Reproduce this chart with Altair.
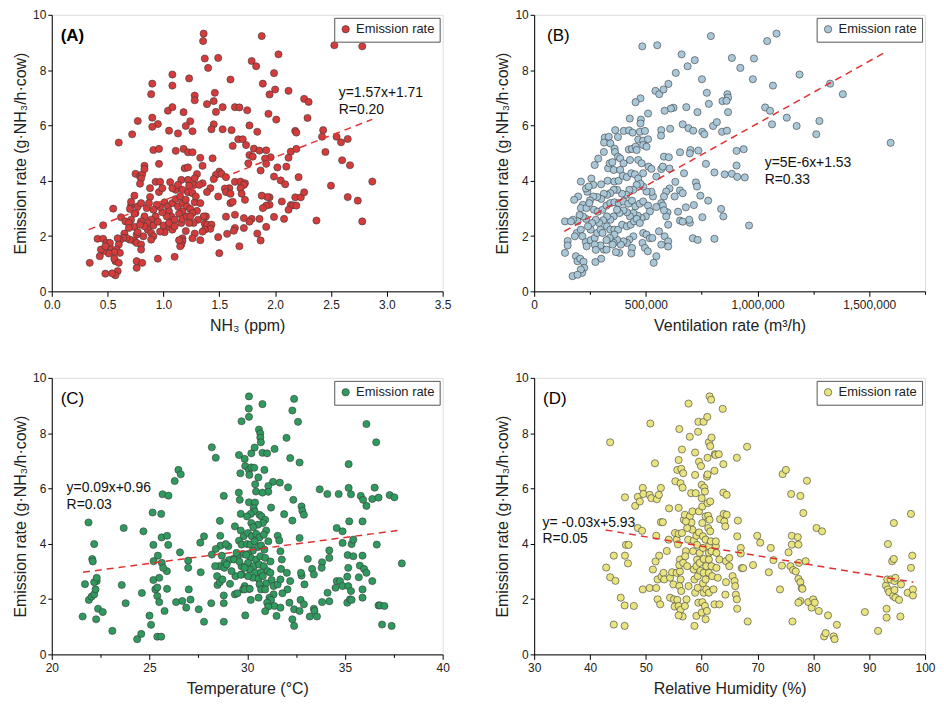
import altair as alt
import pandas as pd

# ---------------- data ----------------
A_POINTS = [
(1.36,9.32),(1.355,9.05),(1.88,9.23),(2.53,8.9),(2.78,8.86),(1.37,8.42),(1.49,8.44),(2.03,8.57),(1.40,8.08),(1.79,8.33),
(1.83,8.14),(1.08,7.84),(1.99,7.89),(1.23,7.7),(1.60,7.66),(0.90,7.51),(1.08,7.44),(1.89,7.51),(0.89,7.13),(1.28,7.08),
(1.28,6.91),(1.46,7.18),(1.95,7.12),(2.0,7.3),(2.12,7.25),(2.26,6.96),(2.30,6.85),(1.39,6.77),(1.45,6.88),(1.04,6.53),
(1.08,6.66),(1.53,6.66),(1.47,6.49),(1.18,6.48),(1.64,6.66),(1.68,6.65),(1.75,6.55),(1.94,6.42),(2.29,6.27),(0.77,6.16),
(0.90,6.28),(0.95,6.05),(0.90,5.95),(1.24,6.15),(1.20,5.98),(1.45,6.04),(1.61,5.83),(2.01,6.21),(1.77,6.0),(0.60,5.38),
(0.72,5.68),(1.05,5.81),(1.13,5.71),(1.26,5.79),(1.43,5.86),(1.53,5.86),(1.84,5.77),(2.18,5.8),(2.19,5.74),(2.43,5.83),
(2.42,5.59),(2.55,5.59),(2.59,5.39),(2.65,5.51),(1.67,5.5),(1.71,5.5),(1.74,5.29),(0.91,5.11),(0.96,5.15),(1.11,5.08),
(1.18,5.15),(1.22,5.03),(1.26,5.03),(1.62,5.26),(1.81,5.16),(1.86,5.09),(1.92,5.10),(2.14,5.05),(2.19,5.15),(2.45,5.04),
(1.77,4.93),(1.80,4.87),(1.96,4.85),(1.91,4.8),(2.60,4.74),(2.67,4.56),(2.12,4.83),(0.83,4.54),(0.96,4.61),(0.75,4.25),
(0.79,4.15),(0.81,4.23),(0.83,4.42),(0.80,4.08),(1.19,4.45),(1.22,4.48),(1.30,4.24),(1.35,4.54),(1.44,4.81),(1.33,4.83),
(1.50,4.33),(1.47,4.21),(1.45,4.06),(1.52,4.25),(1.56,4.13),(1.76,4.63),(1.87,4.37),(2.02,4.48),(1.92,4.61),(1.99,4.15),
(2.10,4.51),(2.05,4.01),(2.09,3.87),(2.21,4.13),(0.93,3.96),(0.97,3.96),(1.06,3.95),(1.16,4.03),(1.27,3.85),(1.35,3.91),
(1.42,3.73),(1.39,3.59),(1.64,3.96),(1.69,3.97),(1.73,3.91),(1.72,3.85),(1.69,3.73),(1.70,3.53),(1.59,3.73),(1.55,3.72),
(1.56,3.59),(1.60,3.53),(1.73,3.31),(2.06,3.25),(2.18,3.40),(2.23,3.40),(2.26,3.58),(2.14,3.12),(2.16,3.11),(1.95,3.40),
(1.93,3.41),(1.95,3.13),(2.19,3.10),(2.12,2.95),(0.79,3.89),(0.88,3.73),(0.96,3.59),(0.99,3.73),(0.74,3.46),(0.88,3.41),
(2.50,3.82),(2.65,3.41),(2.87,3.97),(2.74,3.28),(2.78,2.53),(2.37,2.56),(1.88,3.46),(1.92,3.10),(2.08,2.62),(1.99,2.69),
(1.79,2.62),(1.77,2.52),(1.72,2.65),(1.86,2.62),(1.64,2.77),(1.49,3.43),(1.60,3.19),(1.62,3.24),(1.56,2.70),(1.64,2.29),
(1.63,2.19),(1.72,2.29),(1.57,2.08),(1.49,1.96),(1.50,1.38),(1.68,1.63),(1.84,2.09),(1.87,1.84),(1.92,2.33),(1.89,3.01),
(1.38,2.71),(1.36,2.71),(1.37,2.45),(1.39,2.41),(1.43,2.41),(1.42,2.26),(1.37,2.23),(1.35,2.16),(1.28,2.09),(1.26,1.92),
(1.33,1.85),(1.17,1.92),(1.20,2.18),(1.17,1.82),(1.16,1.69),(1.15,1.63),(1.10,1.25),(0.95,1.18),(1.04,2.33),(1.01,2.14),
(1.08,2.23),(1.14,1.85),(1.28,3.22),(1.33,3.19),(1.30,2.91),(1.31,2.59),(1.27,2.47),(1.01,3.22),(1.04,3.07),(1.05,2.89),
(1.08,3.19),(1.11,3.34),(1.13,3.07),(1.15,3.43),(1.17,3.19),(1.20,3.31),(1.21,3.07),(1.24,2.98),(1.26,2.83),(1.17,2.89),
(1.14,2.81),(1.07,2.71),(1.03,2.71),(0.99,2.86),(0.97,3.05),(0.94,3.13),(0.91,2.95),(0.93,2.71),(0.89,2.59),(0.86,2.47),
(0.91,2.38),(0.86,2.23),(0.89,2.11),(0.91,1.99),(0.89,1.87),(0.97,2.16),(0.95,2.52),(1.0,2.38),(1.05,2.47),(1.10,2.59),
(1.10,2.35),(1.16,2.47),(1.17,2.62),(1.21,2.71),(1.23,2.47),(1.24,2.71),(1.11,3.67),(1.08,3.73),(1.13,3.85),(1.17,3.67),
(1.22,3.58),(1.26,3.55),(1.29,3.43),(1.22,4.03),(1.28,4.09),(1.32,3.85),(1.23,3.82),(0.55,2.99),(0.62,2.68),(0.46,2.39),
(0.66,2.53),(0.71,2.59),(0.69,2.47),(0.74,2.33),(0.69,2.29),(0.65,2.09),(0.76,2.05),(0.74,1.82),(0.76,1.75),(0.70,1.87),
(0.67,1.93),(0.64,1.93),(0.61,1.85),(0.59,1.92),(0.60,1.69),(0.58,1.51),(0.61,1.39),(0.56,1.42),(0.52,1.61),(0.51,1.37),
(0.46,1.45),(0.44,1.51),(0.41,1.90),(0.46,1.90),(0.49,1.75),(0.52,1.75),(0.48,1.63),(0.43,1.27),(0.34,1.03),(0.57,1.09),
(0.56,1.18),(0.60,1.03),(0.59,0.73),(0.57,0.58),(0.54,0.65),(0.48,0.64),(0.76,0.85),(0.76,1.09),(0.81,1.03),(0.80,1.69),
(0.80,1.51),(0.82,1.99),(0.83,2.35),(0.75,2.83),(0.74,2.81),(0.71,3.10),(0.71,3.24),(0.70,2.98),(0.77,3.07),(0.80,3.19),
(0.85,3.01),(0.87,3.19),(0.83,2.71),(0.80,2.53),(0.79,2.41),(0.77,2.14),
]

B_POINTS = [  # (ventilation rate in thousand m3/h, emission rate)
(791,9.23),(1085,9.32),(1043,9.05),(484,8.86),(551,8.9),(660,8.57),(719,8.36),(687,8.14),(885,8.44),(984,8.42),
(923,8.08),(634,7.9),(1188,7.84),(751,7.67),(979,7.67),(601,7.5),(1325,7.51),(543,7.25),(560,7.13),(579,7.3),
(773,7.18),(865,7.13),(868,7.01),(1382,7.13),(1069,7.44),(476,6.98),(454,6.84),(782,6.78),(843,6.88),(861,6.89),
(624,6.64),(612,6.61),(681,6.66),(584,6.53),(731,6.48),(868,6.48),(1034,6.65),(1056,6.53),(1131,6.28),(428,6.25),
(510,6.43),(478,6.21),(609,5.88),(569,5.83),(665,6.04),(691,5.9),(712,5.81),(753,5.77),(762,5.68),(801,5.98),
(818,6.12),(841,5.77),(863,5.81),(1065,6.04),(1175,5.98),(1277,6.16),(1263,5.68),(1596,5.37),(363,5.83),(401,5.8),
(425,5.82),(441,5.74),(473,5.77),(496,5.8),(476,6.07),(568,5.63),(316,5.56),(334,5.59),(375,5.58),(313,5.38),
(341,5.35),(360,5.16),(362,5.04),(312,5.04),(331,4.45),(338,4.63),(375,4.87),(385,4.81),(400,4.63),(424,5.13),
(438,5.15),(454,5.23),(466,5.49),(488,5.45),(510,5.5),(488,5.29),(503,5.23),(459,5.11),(466,4.75),(481,4.63),
(429,4.75),(350,4.67),(356,4.39),(385,4.39),(271,4.57),(287,4.8),(256,4.08),(265,3.85),(300,3.87),(329,4.0),
(359,3.97),(378,4.0),(397,4.18),(415,4.13),(435,4.27),(451,4.23),(466,4.08),(488,4.27),(512,4.51),(525,4.43),
(547,4.15),(569,4.42),(576,4.51),(581,4.87),(603,4.85),(606,4.44),(653,5.03),(700,5.11),(697,4.99),(735,5.09),
(769,4.61),(807,4.3),(853,4.23),(885,4.25),(906,5.08),(906,4.55),(909,4.14),(943,4.12),(938,5.14),(671,4.27),
(632,3.96),(653,3.65),(665,3.55),(724,3.94),(729,3.79),(744,3.46),(779,3.28),(837,2.98),(847,2.71),(962,2.38),
(807,1.9),(710,1.92),(732,1.86),(697,2.48),(694,2.59),(715,3.12),(679,3.04),(753,2.68),(644,2.88),(653,2.56),
(665,2.52),(629,3.43),(606,3.72),(591,3.61),(581,3.43),(569,3.19),(597,2.86),(591,2.71),(600,2.41),(576,3.1),
(581,2.93),(547,3.05),(532,3.43),(525,3.6),(503,3.61),(488,3.79),(476,3.89),(459,3.85),(444,3.67),(426,3.67),
(412,3.49),(393,3.53),(371,3.67),(356,3.67),(341,3.55),(326,3.49),(312,3.53),(300,3.34),(282,3.41),(265,3.43),
(250,3.29),(238,3.6),(232,3.72),(209,3.97),(197,3.43),(179,3.31),(218,3.13),(209,3.01),(234,3.01),(247,3.19),
(268,2.95),(285,2.88),(306,2.95),(324,3.1),(341,3.19),(359,3.22),(379,3.19),(400,3.25),(421,3.17),(438,3.28),
(453,3.07),(473,3.17),(488,3.25),(510,3.1),(518,2.89),(500,2.71),(481,2.65),(463,2.74),(444,2.83),(429,2.71),
(415,2.86),(400,2.93),(382,2.83),(371,2.95),(356,2.71),(341,2.59),(326,2.71),(309,2.57),(291,2.47),(276,2.59),
(259,2.47),(253,2.23),(241,2.35),(232,2.62),(218,2.71),(203,2.76),(194,2.53),(174,2.59),(138,2.53),(165,2.53),
(191,2.11),(209,2.23),(216,1.99),(231,1.78),(235,1.63),(253,1.85),(271,1.93),(282,2.11),(297,2.23),(306,2.11),
(326,2.35),(341,2.23),(359,2.23),(376,2.23),(394,2.41),(415,2.35),(432,2.41),(447,2.53),(459,2.62),(473,2.47),
(488,2.11),(503,2.05),(518,1.92),(485,1.75),(496,1.57),(509,1.45),(535,1.03),(547,1.27),(559,2.17),(584,1.99),
(600,1.81),(600,1.62),(569,1.69),(529,1.93),(444,1.99),(426,1.87),(438,1.57),(435,1.37),(415,1.75),(400,1.81),
(388,1.69),(371,1.87),(359,2.05),(356,1.75),(381,1.39),(366,1.42),(351,1.69),(338,1.93),(324,1.85),(312,1.51),
(297,1.66),(271,1.69),(276,1.5),(300,1.18),(324,1.51),(274,1.06),(182,1.99),(150,1.82),(150,1.66),(138,1.39),
(187,1.27),(194,1.09),(206,1.18),(221,1.07),(224,0.85),(215,0.67),(209,0.79),(172,0.55),(194,0.6),(244,3.79),
]

C_POINTS = [
(30.09,9.33),(30.08,8.89),(30.09,8.59),(30.78,9.05),(32.4,9.24),(32.31,8.82),(32.6,8.41),(29.71,8.43),(30.6,8.13),(30.67,7.99),
(30.67,7.84),(30.7,7.67),(30.38,7.48),(30.21,7.27),(30.78,7.29),(31.02,7.27),(31.4,7.43),(32.01,7.83),(32.2,7.1),(32.68,6.94),
(36.1,8.33),(36.6,7.67),(35.19,6.88),(35.19,6.02),(35.31,5.79),(35.81,5.73),(35.93,5.59),(36.1,5.37),(36.52,6.03),(36.4,5.62),
(36.72,5.67),(37.29,5.76),(37.53,5.68),(33.71,5.97),(34.1,5.8),(34.68,5.8),(28.19,7.49),(28.39,7.11),(29.58,7.21),(29.65,6.55),
(29.87,7.07),(29.9,6.81),(30.09,6.67),(30.21,6.76),(30.36,6.75),(30.11,6.49),(30.57,6.4),(30.88,6.67),(30.41,6.15),(31.32,6.24),
(31.08,6.09),(31.67,6.21),(32.09,6.04),(31.08,5.88),(30.45,5.89),(30.78,5.85),(29.57,5.85),(29.62,5.59),(30.09,5.5),(30.4,5.49),
(30.33,5.29),(30.38,5.17),(30.18,5.08),(29.67,5.08),(29.99,4.99),(30.63,5.05),(30.73,4.99),(30.92,4.87),(30.8,4.75),(30.55,4.69),
(30.21,4.75),(30.31,4.6),(30.97,4.48),(31.22,5.31),(31.89,5.07),(32.36,5.59),(32.78,5.35),(32.82,5.19),(32.9,5.05),(32.31,4.84),
(29.37,4.63),(29.67,4.48),(29.82,4.27),(30.04,4.39),(30.24,4.27),(30.46,4.36),(30.63,4.23),(30.85,4.33),(31.08,4.09),(31.56,4.29),
(31.64,4.12),(31.7,3.73),(32.68,4.21),(29.58,4.11),(29.71,3.97),(29.99,3.99),(30.16,3.97),(30.38,4.09),(30.55,3.88),(30.71,3.94),
(30.88,3.79),(30.29,3.75),(30.04,3.63),(29.79,3.63),(29.5,3.55),(29.28,3.45),(29.07,3.41),(28.83,3.31),(28.56,3.19),(29.03,3.91),
(28.63,3.93),(28.6,4.83),(28.62,4.29),(28.39,3.81),(28.19,3.61),(27.6,4.04),(27.79,4.27),(26.56,3.69),(30.18,3.49),(30.46,3.43),
(30.68,3.55),(30.92,3.49),(31.19,3.36),(30.04,3.31),(30.34,3.19),(30.61,3.25),(30.85,3.19),(30.13,3.07),(30.41,2.95),(30.71,2.97),
(31.05,3.01),(31.19,2.95),(30.29,2.77),(30.58,2.73),(30.8,2.83),(31.25,2.69),(30.97,2.57),(30.63,2.53),(30.04,2.83),(29.71,2.89),
(29.4,2.83),(29.87,2.47),(29.79,2.35),(30.09,2.37),(30.58,2.05),(30.71,2.35),(30.92,2.35),(31.35,2.47),(31.56,2.53),(31.7,2.71),
(31.73,3.09),(31.77,3.43),(32.03,2.95),(32.06,2.35),(32.2,2.65),(31.8,2.21),(31.35,2.17),(31.14,2.05),(31.22,1.97),(31.02,1.87),
(31.39,1.75),(31.08,1.73),(31.7,1.69),(30.92,1.56),(31.5,1.39),(32.16,1.87),(32.31,1.27),(32.4,1.03),(32.4,1.63),(32.68,1.57),
(32.73,1.97),(32.9,1.81),(32.78,2.85),(32.75,2.95),(32.93,2.53),(33.1,3.45),(33.32,3.09),(33.41,2.89),(33.83,3.33),(33.81,3.13),
(34.2,3.76),(34.2,3.49),(34.11,2.23),(34.2,1.92),(33.83,1.89),(33.41,1.65),(33.44,1.57),(33.2,1.37),(33.57,1.37),(34.58,4.57),
(34.88,4.45),(34.88,4.03),(34.52,2.41),(34.58,2.65),(34.75,2.65),(34.88,2.47),(35.12,2.81),(35.17,2.47),(35.12,1.87),(35.17,3.13),
(35.14,3.59),(35.43,3.55),(35.26,1.99),(35.31,2.29),(35.34,1.97),(35.22,4.81),(35.34,3.99),(35.43,4.15),(35.76,3.21),(35.71,2.79),
(35.9,3.57),(35.9,2.35),(35.9,2.05),(35.9,4.81),(35.98,3.09),(36.1,2.95),(36.4,2.65),(36.63,3.97),(36.72,1.77),(36.8,1.77),
(37.02,1.75),(36.9,1.08),(37.39,1.03),(37.91,3.29),(21.88,4.77),(22.17,3.99),(22.07,3.45),(22.1,3.36),(21.7,2.54),(21.58,1.37),
(21.9,1.97),(22.04,2.09),(22.17,2.17),(22.24,2.35),(22.3,2.65),(22.17,2.61),(22.3,2.77),(22.27,1.27),(22.37,1.65),(22.61,1.53),
(23.1,0.85),(23.58,2.51),(23.68,4.57),(23.78,1.85),(24.37,0.55),(24.58,0.74),(24.61,2.22),(24.69,4.45),(25.0,1.4),(25.08,1.07),
(25.16,5.13),(25.2,3.96),(25.21,3.37),(25.2,2.69),(25.3,2.35),(25.4,2.42),(25.43,3.57),(25.5,2.77),(25.4,2.11),(25.5,1.89),
(25.4,0.64),(25.6,0.64),(25.6,5.08),(25.62,4.23),(25.67,5.79),(25.97,5.74),(25.9,4.29),(25.96,3.96),(25.89,3.01),(25.9,2.37),
(25.77,1.57),(25.63,3.31),(25.7,3.13),(26.29,6.27),(26.48,6.67),(26.6,6.51),(26.36,1.89),(26.68,1.93),(26.88,1.69),(26.98,3.39),
(27.01,2.35),(27.1,1.98),(27.52,1.63),(27.62,2.97),(26.98,3.13),(27.79,1.18),(28.16,1.85),(28.36,3.19),(28.46,2.83),(28.48,2.51),
(28.6,2.61),(28.73,2.71),(28.83,3.13),(28.8,2.13),(28.8,1.85),(28.8,1.18),(28.8,5.73),(28.9,3.99),(28.7,3.57),(29.12,2.55),
(29.33,3.43),(29.37,2.17),(29.5,2.21),(29.67,2.88),(29.87,2.35),(29.9,1.41),(29.95,3.6),(30.13,2.37),(30.18,1.97),(29.71,3.19),
(29.87,3.13),(29.6,3.36),(29.45,3.67),(29.2,3.01),(28.95,3.25),
]

D_POINTS = [
(43.61,7.67),(42.9,3.14),(43.61,2.79),(44.56,2.66),(44.26,3.57),(44.26,1.08),(45.5,2.05),(46.2,1.03),(46.2,1.77),(46.26,3.57),
(46.26,5.68),(46.44,3.96),(46.91,3.96),(46.79,3.29),(47.85,1.75),(48.09,5.37),(48.56,5.7),(48.92,5.53),(48.56,4.57),(49.33,4.47),
(49.45,6.02),(49.56,5.8),(49.45,2.35),(50.68,2.4),(50.8,8.35),(50.68,5.77),(50.98,5.65),(51.27,3.07),(51.63,6.91),(51.74,3.36),
(51.86,4.29),(51.98,5.61),(52.1,1.99),(52.33,5.77),(52.39,3.57),(52.57,1.81),(52.69,6.02),(52.69,4.78),(53.04,4.78),(51.86,2.4),
(52.1,2.71),(52.81,2.81),(53.16,2.95),(53.75,3.74),(54.1,4.15),(54.16,5.28),(53.28,2.71),(54.34,2.77),(54.69,2.97),(54.93,2.53),
(54.34,2.05),(55.04,1.99),(55.16,1.73),(55.63,1.97),(55.51,2.95),(56.1,3.0),(55.22,4.39),(55.28,6.26),(55.51,4.15),(55.75,3.98),
(55.87,4.36),(55.87,7.03),(55.87,5.3),(55.63,6.67),(55.99,8.15),(56.22,6.19),(56.34,6.71),(56.58,6.03),(56.46,7.41),(56.69,6.55),
(56.81,4.87),(56.99,5.05),(56.1,3.43),(55.99,3.23),(56.69,3.31),(56.22,2.71),(55.99,2.47),(56.34,2.29),(55.87,1.75),(56.22,1.61),
(56.58,1.37),(55.87,1.41),(56.99,1.75),(57.28,1.99),(57.17,3.73),(57.58,4.15),(57.05,3.55),(57.4,3.19),(57.64,2.47),(57.87,7.87),
(57.64,9.07),(57.87,4.99),(58.11,5.83),(58.17,4.77),(58.34,4.51),(58.34,5.17),(58.46,3.73),(58.58,4.11),(58.58,3.07),(58.7,2.71),
(58.82,2.23),(58.7,1.03),(58.82,7.3),(58.82,6.49),(58.93,5.83),(59.05,4.29),(59.17,3.96),(59.17,3.43),(59.05,3.19),(59.29,2.83),
(59.29,2.41),(59.35,8.05),(59.4,8.41),(59.52,6.97),(59.52,5.17),(59.52,4.41),(59.64,3.67),(59.64,3.31),(59.76,3.02),(59.4,1.87),
(59.05,1.39),(60.0,6.13),(59.88,6.81),(60.0,5.65),(60.11,5.35),(60.11,4.75),(60.23,4.27),(60.23,3.85),(60.35,3.45),(60.35,2.95),
(60.23,2.57),(60.35,2.23),(60.11,1.89),(60.0,1.51),(60.35,8.41),(60.46,6.03),(60.58,5.89),(60.7,4.99),(60.7,4.15),(60.82,3.19),
(60.7,2.71),(60.82,2.35),(60.58,1.75),(60.7,1.27),(61.0,8.59),(61.05,7.11),(60.94,6.43),(61.05,6.51),(61.05,5.47),(61.17,5.01),
(61.17,4.57),(61.29,3.91),(61.29,3.67),(61.29,3.43),(61.29,2.95),(61.29,2.23),(60.94,1.57),(61.41,9.33),(61.7,9.21),(61.29,7.67),
(61.76,7.84),(61.53,7.53),(61.53,5.53),(61.41,4.87),(61.53,4.45),(61.64,4.09),(61.76,3.73),(61.76,3.19),(61.88,2.83),(62.12,2.35),
(62.29,1.81),(62.35,7.24),(62.29,6.64),(62.47,7.21),(63.06,7.24),(62.53,3.91),(62.53,4.09),(62.64,3.67),(62.64,3.13),(62.88,2.77),
(63.17,3.43),(63.17,1.81),(63.29,4.89),(63.76,8.88),(63.88,6.88),(63.88,5.85),(63.94,5.08),(64.06,4.81),(64.23,4.63),(64.47,5.77),
(64.47,5.05),(64.35,3.37),(64.35,2.61),(64.24,2.16),(64.94,3.49),(64.94,3.19),(65.53,2.83),(65.89,2.65),(66.0,2.47),(66.12,2.16),
(66.36,1.65),(66.36,4.27),(66.48,4.84),(66.3,7.11),(67.0,3.85),(67.0,3.65),(67.18,3.12),(67.42,3.12),(66.3,1.99),(68.24,1.19),
(68.13,7.51),(69.19,3.23),(69.95,4.29),(70.48,4.04),(72.37,3.85),(72.02,2.97),(72.84,3.41),(74.37,3.21),(74.02,2.35),(74.49,6.52),
(75.08,6.67),(75.55,3.69),(76.02,5.8),(76.14,4.29),(76.14,3.97),(75.9,3.19),(76.37,3.05),(76.84,3.0),(76.26,1.19),(77.2,4.24),
(77.32,3.97),(77.43,3.31),(77.67,5.73),(77.32,2.73),(77.67,2.61),(77.91,2.4),(78.03,2.37),(77.67,1.93),(77.32,1.87),(78.2,5.11),
(78.62,3.37),(78.85,6.28),(79.09,1.89),(79.68,1.69),(79.97,1.99),(80.26,1.87),(80.97,1.57),(80.56,4.57),(81.56,4.45),(81.92,0.65),
(82.21,0.77),(82.62,1.41),(83.62,0.65),(83.8,0.55),(84.21,1.07),(89.22,1.53),(91.58,0.85),(93.11,1.33),(93.11,1.65),(93.35,3.99),
(93.0,2.49),(93.35,2.35),(93.58,2.25),(93.23,2.71),(93.82,2.71),(94.11,3.37),(94.41,3.45),(94.41,4.75),(94.29,2.11),(94.7,2.05),
(94.53,2.33),(94.53,2.65),(94.7,2.77),(95.35,1.97),(95.58,1.37),(95.7,2.53),(96.88,2.23),(97.47,5.08),(97.47,3.13),(97.71,3.57),
(97.83,2.35),(97.83,2.13),(57.4,4.57),(56.46,4.39),(57.17,4.81),
]

# dashed trend lines: endpoints
A_TREND = [(0.33, 2.23), (2.87, 6.22)]
B_TREND = [(135, 2.17), (1579, 8.68)]
C_TREND = [(21.6, 2.97), (37.9, 4.50)]
D_TREND = [(42.8, 4.50), (97.9, 2.61)]

EQUATIONS = [["y=1.57x+1.71", "R=0.20"], ["y=5E-6x+1.53", "R=0.33"],
             ["y=0.09x+0.96", "R=0.03"], ["y= -0.03x+5.93", "R=0.05"]]
EQ_POS = [(2.57, 7.42), (1032000, 4.90), (20.76, 6.28), (31.5, 5.02)]
LABELS = ["(A)", "(B)", "(C)", "(D)"]
X_TITLES = ["NH₃ (ppm)", "Ventilation rate (m³/h)", "Temperature (°C)", "Relative Humidity (%)"]
Y_TITLE = "Emission rate  (g·NH₃/h·cow)"
FILLS = ["#d53b3b", "#a8c8da", "#2f9a5e", "#e9e47e"]
SERIES = "Emission rate"

FONT = "Liberation Sans"
W, H = 393, 278


def y_axis():
    return alt.Axis(
        values=list(range(0, 11)),
        labelExpr="datum.value % 2 == 0 ? datum.label : ''",
        tickSize={"condition": {"test": "datum.value % 2 == 1", "value": 2}, "value": 4},
        grid=True, gridDash=[2, 2], gridColor="#b8b8b8", gridWidth=0.8,
        gridOpacity={"condition": {"test": "datum.value % 2 == 1", "value": 1}, "value": 0},
        title=Y_TITLE, titleFontSize=16, titleFontWeight="normal", titleColor="#222",
        labelFontSize=12, labelColor="#222", domainColor="#000", tickColor="#000",
        labelPadding=2, titlePadding=4,
    )


def x_axis(title, values, major_test, fmt_expr):
    return alt.Axis(
        values=values,
        labelExpr=f"({major_test}) ? {fmt_expr} : ''",
        tickSize={"condition": {"test": f"!({major_test})", "value": 3}, "value": 5},
        grid=False, title=title, titleFontSize=16, titleFontWeight="normal", titleColor="#222",
        labelFontSize=12, labelColor="#222", domainColor="#000", tickColor="#000",
        labelPadding=3, titlePadding=7, labelFlush=False,
    )


def panel(i, points, trend, domain, xaxis, xscale_factor=1.0):
    df = pd.DataFrame(points, columns=["x", "y"])
    df["x"] = df["x"] * xscale_factor
    df["series"] = SERIES
    tdf = pd.DataFrame(trend, columns=["x", "y"])
    tdf["x"] = tdf["x"] * xscale_factor
    xs = alt.Scale(domain=domain, nice=False, zero=False)
    ys = alt.Scale(domain=[0, 10], nice=False)

    pts = alt.Chart(df).mark_point(
        shape="circle", filled=True, size=52, stroke="#3a3a3a", strokeWidth=0.6, opacity=1
    ).encode(
        x=alt.X("x:Q", scale=xs, axis=xaxis),
        y=alt.Y("y:Q", scale=ys, axis=y_axis()),
        fill=alt.Fill("series:N", scale=alt.Scale(domain=[SERIES], range=[FILLS[i]]),
                      legend=alt.Legend(title=None, orient="top-right", offset=3, padding=5,
                                        strokeColor="#555", fillColor="white",
                                        labelFontSize=13, labelFont=FONT, labelColor="#222",
                                        symbolType="circle", symbolSize=55,
                                        symbolStrokeColor="#3a3a3a", symbolStrokeWidth=0.6)),
    )
    line = alt.Chart(tdf).mark_line(color="#e03030", strokeWidth=1.5, strokeDash=[7, 5]).encode(
        x=alt.X("x:Q", scale=xs), y=alt.Y("y:Q", scale=ys)
    )
    eq = alt.Chart(pd.DataFrame({"t": [0]})).mark_text(
        align="left", baseline="top", fontSize=14, font=FONT, color="#111", lineHeight=17
    ).encode(
        x=alt.datum(EQ_POS[i][0]), y=alt.datum(EQ_POS[i][1]),
        text=alt.value(EQUATIONS[i])
    )
    lab = alt.Chart(pd.DataFrame({"t": [0]})).mark_text(
        align="left", baseline="middle", fontSize=17, font=FONT, color="#000",
        fontWeight="bold" if i == 0 else "normal"
    ).encode(x=alt.value(9 if i != 1 else 13), y=alt.value(21), text=alt.value(LABELS[i]))
    return alt.layer(pts, line, eq, lab).properties(width=W, height=H)


pa = panel(0, A_POINTS, A_TREND, [0, 3.5],
           x_axis(X_TITLES[0], [k * 0.25 for k in range(15)],
                  "round(datum.value*4) % 2 == 0", "format(datum.value, '.1f')"))
pb = panel(1, B_POINTS, B_TREND, [0, 1750000],
           x_axis(X_TITLES[1], [k * 250000 for k in range(8)],
                  "datum.value % 500000 == 0", "format(datum.value, ',')"), xscale_factor=1000.0)
pc = panel(2, C_POINTS, C_TREND, [20, 40],
           x_axis(X_TITLES[2], [20 + k * 2.5 for k in range(9)],
                  "datum.value % 5 == 0", "format(datum.value, 'd')"))
pd_ = panel(3, D_POINTS, D_TREND, [30, 100],
            x_axis(X_TITLES[3], [30 + k * 5 for k in range(15)],
                   "datum.value % 10 == 0", "format(datum.value, 'd')"))

chart = alt.concat(pa, pb, pc, pd_, columns=2, spacing={"row": 37, "column": 43}).resolve_scale(
    fill="independent", x="independent", y="independent"
).properties(
    padding={"left": 4, "top": -2, "right": 0, "bottom": 0}
).configure_view(
    stroke="#222", strokeWidth=1
).configure(font=FONT, background="white")

chart.save("out.html", embed_options={"renderer": "svg", "actions": False})
